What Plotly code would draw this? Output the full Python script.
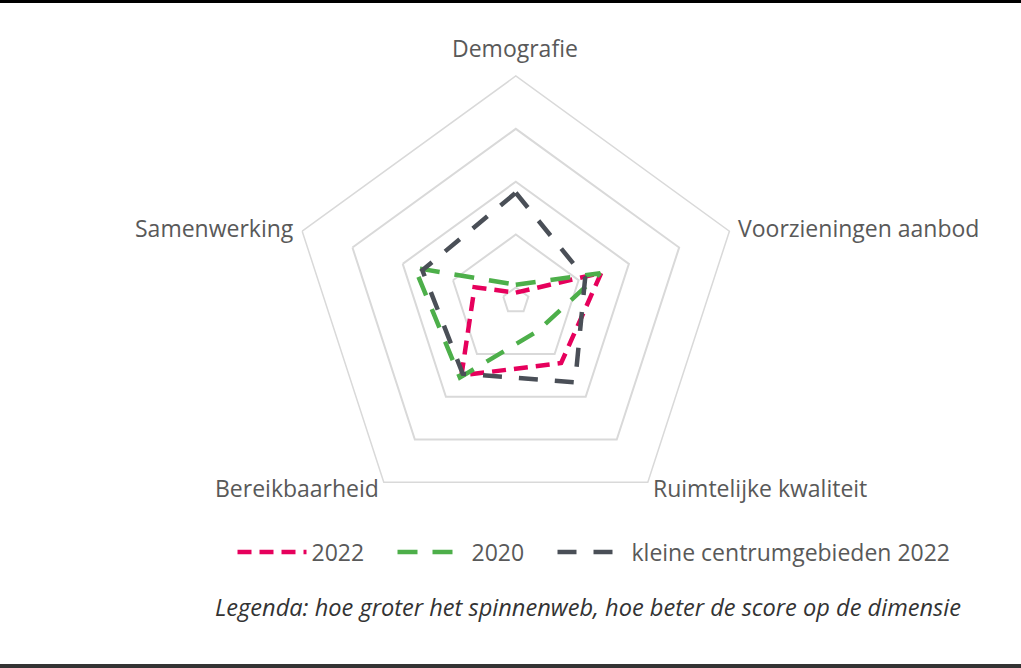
import plotly.graph_objects as go

categories = ["Demografie", "Voorzieningen aanbod", "Ruimtelijke kwaliteit", "Bereikbaarheid", "Samenwerking"]
series_names = ["2022", "2020", "kleine centrumgebieden 2022"]
values_2022 = [0.90, 2.45, 2.21, 2.50, 1.57]
values_2020 = [1.05, 2.43, 1.46, 2.55, 2.76]
values_klein = [2.79, 2.13, 2.66, 2.46, 2.61]
grid_ticks = [1, 2, 3, 4, 5]
caption = "Legenda: hoe groter het spinnenweb, hoe beter de score op de dimensie"

colors = ["#E6005C", "#4DAF4A", "#4A4F57"]
dashes = ["14px,8px", "20px,15px", "19px,17px"]
legend_widths = [76, 76, 330]

W, H = 1021, 668
cx, cy, R = 515.8, 300.6, 224.6
FONT = "Open Sans"
TXT = "#595959"

fig = go.Figure()
for name, vals, col, dsh, lw in zip(series_names, [values_2022, values_2020, values_klein], colors, dashes, legend_widths):
    fig.add_trace(go.Scatterpolar(
        r=vals + vals[:1],
        theta=categories + categories[:1],
        mode="lines",
        name=name,
        legendwidth=lw,
        line=dict(color=col, width=4.5, dash=dsh),
        hoverinfo="skip",
    ))

# category label placement (pixel positions, anchors)
label_pos = [
    (515, 48.3, "center"),
    (736, 228, "left"),
    (651, 487.7, "left"),
    (381, 487.7, "right"),
    (296, 228, "right"),
]
annotations = []
for cat, (x, y, xa) in zip(categories, label_pos):
    annotations.append(dict(text=cat, x=x / W, y=1 - y / H, xref="paper", yref="paper",
                            showarrow=False, xanchor=xa, yanchor="middle",
                            font=dict(size=23, color=TXT, family=FONT)))
annotations.append(dict(text="<i>" + caption + "</i>", x=588 / W, y=1 - 607 / H,
                        xref="paper", yref="paper", showarrow=False,
                        xanchor="center", yanchor="middle",
                        font=dict(size=23.6, color="#333333", family=FONT)))

fig.update_layout(
    width=W, height=H,
    margin=dict(l=0, r=0, t=0, b=0),
    paper_bgcolor="white",
    plot_bgcolor="white",
    font=dict(family=FONT, size=23, color=TXT),
    polar=dict(
        domain=dict(x=[(cx - R) / W, (cx + R) / W], y=[1 - (cy + R) / H, 1 - (cy - R) / H]),
        bgcolor="white",
        gridshape="linear",
        radialaxis=dict(range=[0.75, 5], tickvals=grid_ticks, showticklabels=False, ticks="",
                        showline=False, showgrid=True, gridcolor="#D9D9D9", gridwidth=1.5),
        angularaxis=dict(rotation=90, direction="clockwise", showgrid=False, ticks="",
                         showticklabels=False,
                         showline=True, linecolor="#D9D9D9", linewidth=1.5),
    ),
    legend=dict(orientation="h", x=232.5 / W, xanchor="left", y=1 - 552 / H, yanchor="middle",
                itemwidth=69, font=dict(size=23, color=TXT, family=FONT),
                bgcolor="rgba(0,0,0,0)"),
    showlegend=True,
    annotations=annotations,
    shapes=[
        dict(type="rect", xref="paper", yref="paper", x0=0, x1=1, y0=1 - 3 / H, y1=1,
             fillcolor="black", line=dict(width=0)),
        dict(type="rect", xref="paper", yref="paper", x0=0, x1=1, y0=0, y1=4 / H,
             fillcolor="#333333", line=dict(width=0)),
    ],
)
fig.write_html("out.html", config={"displayModeBar": False},
               post_script="document.body.style.margin='0';document.documentElement.style.overflow='hidden';")
